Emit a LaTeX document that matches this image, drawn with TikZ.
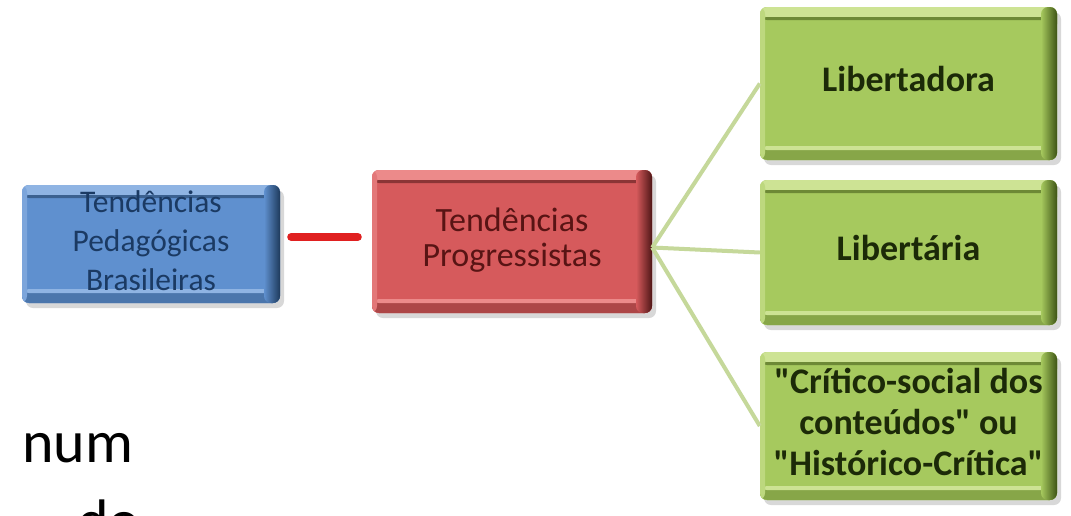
\documentclass[tikz,border=0pt]{standalone}
\usepackage{fontspec}
\setmainfont{Carlito}[Ligatures=TeXOff]
\usetikzlibrary{shadows}
\definecolor{bface}{HTML}{5F90CF}
\definecolor{blight}{HTML}{8FB4E3}
\definecolor{bdark}{HTML}{1E3A5C}
\definecolor{btext}{HTML}{1B3A63}
\definecolor{rface}{HTML}{D65A5C}
\definecolor{rlight}{HTML}{EC8A8A}
\definecolor{rdark}{HTML}{4E1616}
\definecolor{rtext}{HTML}{581414}
\definecolor{gface}{HTML}{A6C95E}
\definecolor{glight}{HTML}{CDE394}
\definecolor{gdark}{HTML}{3E5415}
\definecolor{gtext}{HTML}{1C2A08}
\definecolor{gline}{HTML}{C5D89A}
\definecolor{rline}{HTML}{E02020}
\tikzset{
  bev/.style n args={3}{
    fill=#1, rounded corners=7pt, inner sep=0pt, align=center,
    drop shadow={shadow xshift=4pt,shadow yshift=-5pt,opacity=0.3},
    path picture={
      \fill[#2] (path picture bounding box.north west) rectangle ([yshift=-10pt]path picture bounding box.north east);
      \fill[#3!55!#1] ([yshift=-10pt]path picture bounding box.north west) rectangle ([yshift=-13pt]path picture bounding box.north east);
      \fill[#3!30!#1] ([yshift=14pt]path picture bounding box.south west) rectangle (path picture bounding box.south east);
      \fill[#2] ([yshift=14pt]path picture bounding box.south west) rectangle ([yshift=10pt]path picture bounding box.south east);
      \fill[#2!60!#1] (path picture bounding box.north west) rectangle ([xshift=5pt]path picture bounding box.south west);
      \shade[left color=#1, right color=#3] ([xshift=-16pt]path picture bounding box.north east) rectangle (path picture bounding box.south east);
    }
  },
  bluebox/.style={bev={bface}{blight}{bdark}, text=btext, font=\fontsize{31.5}{39}\selectfont},
  redbox/.style={bev={rface}{rlight}{rdark}, text=rtext, font=\fontsize{34}{35}\selectfont},
  greenbox/.style={bev={gface}{glight}{gdark}, text=gtext, font=\bfseries\fontsize{36}{41}\selectfont},
  gconn/.style={draw=gline, line width=4pt},
  rconn/.style={draw=rline, line width=8pt, line cap=round},
  bigtext/.style={font=\fontsize{60}{60}\selectfont, text=black, inner sep=0pt, anchor=base west}
}
\newcommand{\lift}[2]{\raisebox{#1}{\begin{tabular}{@{}c@{}}#2\end{tabular}}}
\begin{document}
\begin{tikzpicture}[x=1pt,y=-1pt]
\useasboundingbox (0,0) rectangle (1071,515);
\clip (0,0) rectangle (1071,515);
\fill[white] (0,0) rectangle (1071,515);

\node[bluebox, minimum width=258pt, minimum height=118pt] (blue) at (151,244) {\lift{10pt}{Tendências\\Pedagógicas\\Brasileiras}};
\node[redbox, minimum width=280pt, minimum height=143pt] (red) at (512,241.5) {\lift{-3pt}{Tendências\\Progressistas}};
\node[greenbox, minimum width=297pt, minimum height=153pt] (g1) at (908.5,83.5) {\lift{-4pt}{Libertadora}};
\node[greenbox, minimum width=297pt, minimum height=145pt] (g2) at (908.5,252.5) {\lift{-7pt}{Libertária}};
\node[greenbox, minimum width=297pt, minimum height=148pt] (g3) at (908.5,426) {\lift{-10pt}{"Crítico-social dos\\conteúdos" ou\\"Histórico-Crítica"}};

\coordinate (hub) at ([yshift=-6pt]red.east);
\draw[gconn] (hub) -- (g1.west);
\draw[gconn] (hub) -- (g2.west);
\draw[gconn] (hub) -- (g3.west);
\coordinate (rs) at ([yshift=7pt]blue.east);
\draw[rconn, shorten <=11pt, shorten >=14pt] (rs) -- (rs -| red.west);

\node[bigtext] (num) at (22,462) {num};
\node[bigtext] (do) at (77,541) {do};
\end{tikzpicture}
\end{document}
